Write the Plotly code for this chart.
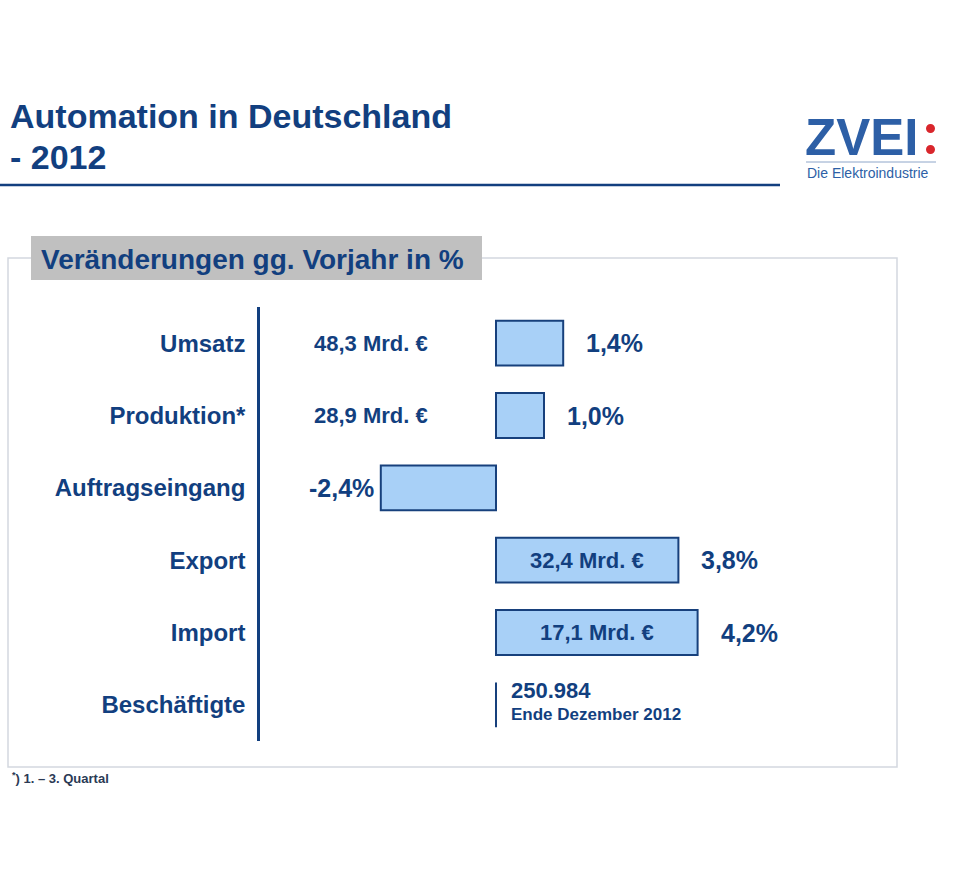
import plotly.graph_objects as go

# ---------------- data ----------------
categories = ["Umsatz", "Produktion*", "Auftragseingang", "Export", "Import", "Beschäftigte"]
change_pct = [1.4, 1.0, -2.4, 3.8, 4.2, None]
change_labels = ["1,4%", "1,0%", "-2,4%", "3,8%", "4,2%", ""]
volume_labels = ["48,3 Mrd. €", "28,9 Mrd. €", "", "32,4 Mrd. €", "17,1 Mrd. €", ""]
employees_value = "250.984"
employees_note = "Ende Dezember 2012"
title_lines = ["Automation in Deutschland", "- 2012"]
subtitle = "Veränderungen gg. Vorjahr in %"
footnote = "<sup>*</sup>) 1. – 3. Quartal"

# ---------------- styling ----------------
W, H = 960, 892
NAVY = "#123f7f"
BAR_FILL = "#a8d0f7"
BAR_LINE = "#17407c"
LOGO_BLUE = "#2d5fa6"
FONT = "Liberation Sans, Arial, sans-serif"


def px_x(p):
    return p / W


def px_y(p):
    return 1 - p / H


zero_px, px_per_pct = 496, 48
x_left_px, x_right_px = 260, 900
x_range = [(x_left_px - zero_px) / px_per_pct, (x_right_px - zero_px) / px_per_pct]

fig = go.Figure()
fig.add_trace(go.Bar(
    orientation="h",
    x=change_pct,
    y=categories,
    width=0.62,
    marker=dict(color=BAR_FILL, line=dict(color=BAR_LINE, width=2)),
    hoverinfo="skip",
))

annotations = []
# title
annotations.append(dict(x=px_x(8), y=px_y(116), xref="paper", yref="paper", xanchor="left",
                        yanchor="middle", text="<b>%s</b>" % title_lines[0], showarrow=False,
                        font=dict(family=FONT, size=34, color=NAVY)))
annotations.append(dict(x=px_x(8), y=px_y(157), xref="paper", yref="paper", xanchor="left",
                        yanchor="middle", text="<b>%s</b>" % title_lines[1], showarrow=False,
                        font=dict(family=FONT, size=34, color=NAVY)))
# subtitle in gray box
annotations.append(dict(x=px_x(39), y=px_y(259), xref="paper", yref="paper", xanchor="left",
                        yanchor="middle", text="<b>%s</b>" % subtitle, showarrow=False,
                        font=dict(family=FONT, size=28, color=NAVY)))
# logo
annotations.append(dict(x=px_x(803), y=px_y(137), xref="paper", yref="paper", xanchor="left",
                        yanchor="middle", text="<b>ZVEI</b>", showarrow=False,
                        font=dict(family=FONT, size=51, color=LOGO_BLUE)))
annotations.append(dict(x=px_x(805), y=px_y(173), xref="paper", yref="paper", xanchor="left",
                        yanchor="middle", text="Die Elektroindustrie", showarrow=False,
                        font=dict(family=FONT, size=14, color=LOGO_BLUE)))
# footnote
annotations.append(dict(x=px_x(10), y=px_y(778), xref="paper", yref="paper", xanchor="left",
                        yanchor="middle", text="<b>%s</b>" % footnote, showarrow=False,
                        font=dict(family=FONT, size=13, color="#2b3a55")))

# percentage labels and volumes
for cat, v, lab, vol in zip(categories, change_pct, change_labels, volume_labels):
    if v is None:
        continue
    if v >= 0:
        annotations.append(dict(x=v, y=cat, xref="x", yref="y", xanchor="left", xshift=21,
                                text="<b>%s</b>" % lab, showarrow=False,
                                font=dict(family=FONT, size=25, color=NAVY)))
    else:
        annotations.append(dict(x=v, y=cat, xref="x", yref="y", xanchor="right", xshift=-5,
                                text="<b>%s</b>" % lab, showarrow=False,
                                font=dict(family=FONT, size=25, color=NAVY)))
    if vol:
        if v > 2.5:
            annotations.append(dict(x=v / 2, y=cat, xref="x", yref="y", xanchor="center",
                                    text="<b>%s</b>" % vol, showarrow=False,
                                    font=dict(family=FONT, size=22, color=NAVY)))
        else:
            annotations.append(dict(x=-2.6, y=cat, xref="x", yref="y", xanchor="center",
                                    text="<b>%s</b>" % vol, showarrow=False,
                                    font=dict(family=FONT, size=22, color=NAVY)))

# employees row
emp_cat = categories[-1]
annotations.append(dict(x=0, y=emp_cat, xref="x", yref="y", xanchor="left", xshift=13, yshift=14,
                        text="<b>%s</b>" % employees_value, showarrow=False,
                        font=dict(family=FONT, size=22, color=NAVY)))
annotations.append(dict(x=0, y=emp_cat, xref="x", yref="y", xanchor="left", xshift=13, yshift=-10,
                        text="<b>%s</b>" % employees_note, showarrow=False,
                        font=dict(family=FONT, size=17, color=NAVY)))

shapes = [
    # outer frame
    dict(type="rect", xref="paper", yref="paper", x0=px_x(8), x1=px_x(897), y0=px_y(767), y1=px_y(258),
         line=dict(color="#d3d8df", width=1.5), fillcolor="rgba(0,0,0,0)", layer="below"),
    # gray subtitle box
    dict(type="rect", xref="paper", yref="paper", x0=px_x(31), x1=px_x(482), y0=px_y(280), y1=px_y(236),
         line=dict(width=0), fillcolor="#c0c0c0", layer="below"),
    # title rule
    dict(type="line", xref="paper", yref="paper", x0=0, x1=px_x(780), y0=px_y(185), y1=px_y(185),
         line=dict(color=NAVY, width=2.5)),
    # logo rule and colon dots
    dict(type="line", xref="paper", yref="paper", x0=px_x(806), x1=px_x(936), y0=px_y(162), y1=px_y(162),
         line=dict(color="#8ea6c9", width=1)),
    dict(type="circle", xref="paper", yref="paper", x0=px_x(926), x1=px_x(935), y0=px_y(133), y1=px_y(124),
         line=dict(width=0), fillcolor="#d9262c"),
    dict(type="circle", xref="paper", yref="paper", x0=px_x(926), x1=px_x(935), y0=px_y(154), y1=px_y(145),
         line=dict(width=0), fillcolor="#d9262c"),
    # employees marker line
    dict(type="line", xref="x", yref="y", x0=0, x1=0, y0=len(categories) - 1 - 0.31,
         y1=len(categories) - 1 + 0.31, line=dict(color=BAR_LINE, width=2)),
]

fig.update_layout(
    width=W, height=H,
    margin=dict(l=0, r=0, t=0, b=0),
    paper_bgcolor="white", plot_bgcolor="rgba(0,0,0,0)",
    showlegend=False,
    xaxis=dict(domain=[px_x(x_left_px), px_x(x_right_px)], range=x_range, visible=False, fixedrange=True),
    yaxis=dict(domain=[px_y(741), px_y(307)], categoryorder="array", categoryarray=categories,
               range=[len(categories) - 0.5, -0.5], showline=True, linecolor=NAVY, linewidth=2.5,
               ticks="", showgrid=False, zeroline=False, ticklabelstandoff=7,
               tickfont=dict(family=FONT, size=24, color=NAVY, weight="bold"), fixedrange=True),
    annotations=annotations,
    shapes=shapes,
)

fig.write_html("out.html")
